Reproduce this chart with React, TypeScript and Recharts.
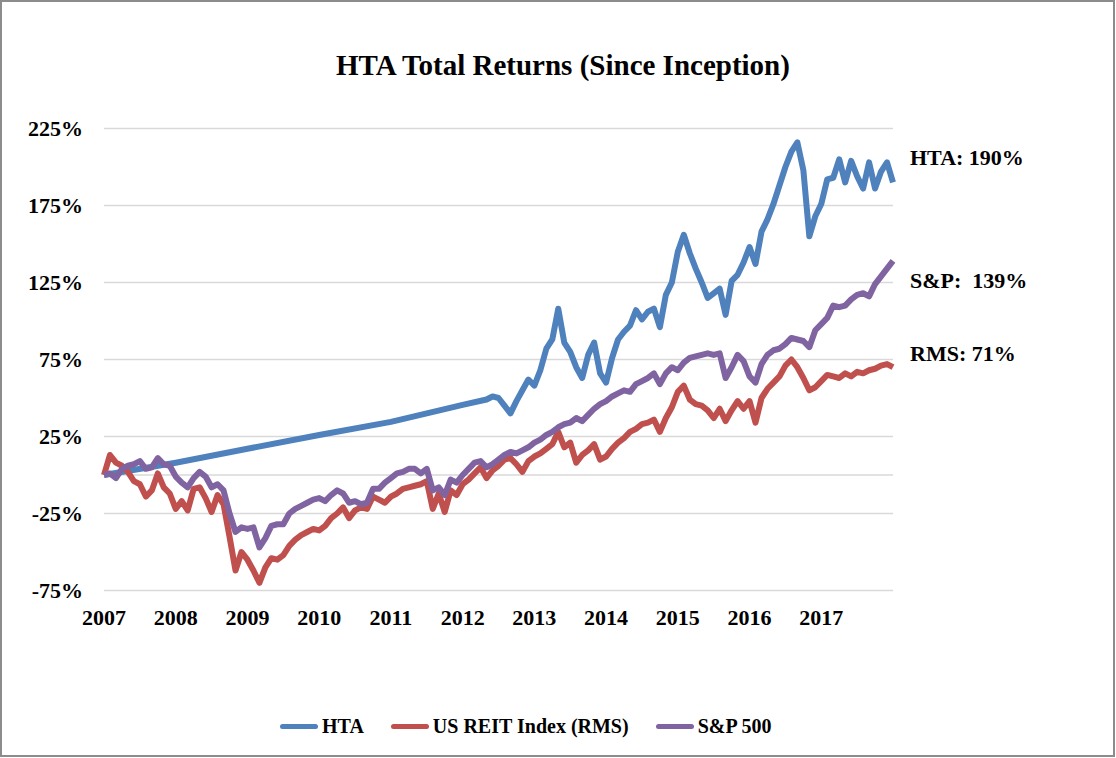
import { LineChart, Line, XAxis, YAxis, CartesianGrid, ReferenceLine } from 'recharts';

const FONT = '"Liberation Serif", "Times New Roman", serif';

const START_YEAR = 2007;
const YEAR_TICKS = [2007, 2008, 2009, 2010, 2011, 2012, 2013, 2014, 2015, 2016, 2017];
const PCT_TICKS = [-75, -25, 25, 75, 125, 175, 225];

// monthly total return in %, Jan 2007 .. Jan 2018 (one row per year)
// HTA was non-traded until mid 2012, so its early line is straight: only yearly points
const HTA = [
  0, null, null, null, null, null, null, null, null, null, null, null,
  8, null, null, null, null, null, null, null, null, null, null, null,
  17, null, null, null, null, null, null, null, null, null, null, null,
  26, null, null, null, null, null, null, null, null, null, null, null,
  34.5, null, null, null, null, null, null, null, null, null, null, null,
  45.5, null, null, null, 49, 51, 50, 45, 40, 48, 55, 62,
  58, 68, 82, 88, 108, 86, 80, 70, 63, 78, 86, 66,
  60, 76, 88, 93, 97, 107, 101, 106, 108, 96, 117, 125,
  145, 156, 144, 134, 125, 115, 118, 121, 104, 126, 130, 138,
  148, 137, 158, 166, 176, 188, 200, 210, 216, 198, 155, 168,
  176, 192, 193, 205, 190, 204, 194, 186, 203, 186, 197, 203,
  190,
];

const RMS = [
  0, 13, 8, 6, 2, -4, -6, -14, -10, 1, -8, -12,
  -22, -17, -23, -9, -8, -15, -24, -13, -19, -40, -62, -50,
  -55, -62, -70, -60, -54, -55, -52, -46, -42, -39, -37, -35,
  -36, -33, -28, -25, -21, -28, -23, -21, -22, -14, -16, -18,
  -14, -12, -9, -8, -7, -6, -4, -22, -12, -24, -10, -13,
  -6, -3, 1, 5, -2, 3, 6, 10, 11, 7, 2, 9,
  12, 14, 17, 20, 28, 18, 21, 8, 13, 16, 20, 10,
  12, 17, 21, 24, 28, 30, 33, 34, 36, 28, 37, 44,
  54, 58, 49, 46, 45, 42, 37, 43, 35, 42, 48, 43,
  48, 34, 50, 56, 60, 64, 71, 75, 70, 63, 55, 57,
  61, 65, 64, 63, 66, 64, 67, 66, 68, 69, 71, 72,
  70,
];

const SP500 = [
  0, 1, -2, 4, 6, 7, 9, 4, 5, 11, 7, 6,
  -1, -5, -8, -2, 2, -1, -8, -6, -10, -25, -37, -34,
  -35, -34, -47, -41, -33, -32, -32, -25, -22, -20, -18, -16,
  -15, -17, -13, -10, -12, -18, -17, -19, -18, -9, -9, -5,
  -2, 1, 2, 4, 4, 1, 4, -10, -8, -13, -3, -5,
  0, 4, 8, 9, 5, 7, 10, 13, 15, 14, 16, 18,
  21, 23, 26, 28, 31, 33, 34, 37, 35, 39, 43, 46,
  48, 51, 53, 55, 54, 59, 61, 63, 66, 59, 66, 70,
  68, 73, 76, 77, 78, 79, 78, 79, 63, 70, 78, 74,
  64, 60, 72, 78, 81, 82, 85, 89, 88, 87, 83, 94,
  98, 102, 110, 109, 110, 114, 117, 118, 116, 124, 129, 134,
  139,
];

const SERIES = [
  { key: 'hta', name: 'HTA', color: '#4F81BD' },
  { key: 'rms', name: 'US REIT Index (RMS)', color: '#C0504D' },
  { key: 'sp', name: 'S&P 500', color: '#8064A2' },
];

const END_LABELS = [
  { text: 'HTA: 190%', y: 165 },
  { text: 'S&P:  139%', y: 288 },
  { text: 'RMS: 71%', y: 361 },
];

const rows = RMS.map((_, i) => ({
  t: START_YEAR + i / 12,
  hta: HTA[i],
  rms: RMS[i],
  sp: SP500[i],
}));

const tickStyle = { fontSize: 22, fontWeight: 700, fill: '#000', fontFamily: FONT };

export default function App() {
  return (
    <div style={{ position: 'absolute', left: 0, top: 0, width: 1116, height: 758, background: '#fff', fontFamily: FONT }}>
      <LineChart width={1116} height={758} data={rows} margin={{ top: 128.5, right: 223, bottom: 137.5, left: 0 }}>
        <CartesianGrid key="grid" vertical={false} stroke="#d9d9d9" strokeWidth={1.5} />
        <ReferenceLine key="zero" y={0} stroke="#d9d9d9" strokeWidth={1.5} />
        <XAxis
          key="x"
          type="number"
          dataKey="t"
          domain={[2007, 2018]}
          ticks={YEAR_TICKS}
          interval={0}
          axisLine={false}
          tickLine={false}
          tickSize={0}
          tickMargin={19}
          height={30}
          tick={tickStyle}
        />
        <YAxis
          key="y"
          type="number"
          domain={[-75, 225]}
          ticks={PCT_TICKS}
          interval={0}
          width={104}
          axisLine={false}
          tickLine={false}
          tickSize={0}
          tickMargin={21}
          tickFormatter={(v: number) => `${v}%`}
          tick={tickStyle}
        />
        {SERIES.map((s) => (
          <Line
            key={s.key}
            type="linear"
            dataKey={s.key}
            name={s.name}
            stroke={s.color}
            strokeWidth={6}
            strokeLinejoin="round"
            dot={false}
            activeDot={false}
            connectNulls
            isAnimationActive={false}
          />
        ))}
      </LineChart>

      <svg width={1116} height={758} style={{ position: 'absolute', left: 0, top: 0, pointerEvents: 'none' }}>
        <text x={563} y={75} textAnchor="middle" fontFamily={FONT} fontWeight={700} fontSize={29} fill="#000">
          HTA Total Returns (Since Inception)
        </text>
        {END_LABELS.map((l) => (
          <text key={l.text} x={910} y={l.y} fontFamily={FONT} fontWeight={700} fontSize={22} fill="#000" style={{ whiteSpace: 'pre' }}>
            {l.text}
          </text>
        ))}
      </svg>

      <div style={{ position: 'absolute', left: 280, top: 716, display: 'flex', alignItems: 'center', gap: 27, lineHeight: '20px' }}>
        {SERIES.map((s) => (
          <div key={s.key} style={{ display: 'flex', alignItems: 'center', gap: 4 }}>
            <span style={{ display: 'inline-block', width: 38, height: 5, borderRadius: 3, background: s.color }} />
            <span style={{ fontSize: 20, fontWeight: 700, color: '#000' }}>{s.name}</span>
          </div>
        ))}
      </div>

      <div style={{ position: 'absolute', left: 0, top: 0, width: 1115, height: 757, border: '2px solid #8c8c8c', boxSizing: 'border-box', pointerEvents: 'none' }} />
    </div>
  );
}
